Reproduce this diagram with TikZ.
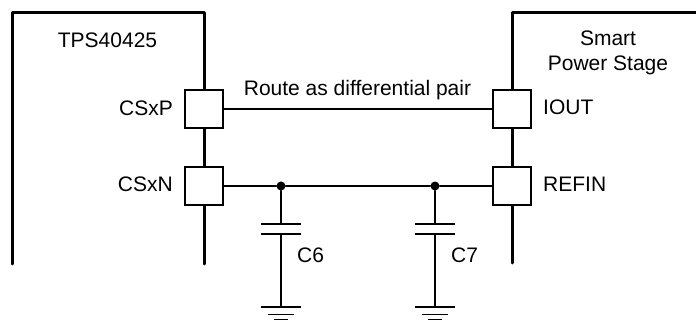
\documentclass[tikz,border=0pt]{standalone}
\usepackage{fontspec}
\setmainfont{Liberation Sans}
\tikzset{
	pin/.style={draw,fill=white,line width=1.4pt,minimum width=38pt,minimum height=38pt,inner sep=0pt},
	lbl/.style={inner sep=0pt,font=\fontsize{21pt}{25pt}\selectfont},
	wire/.style={line width=1.6pt,line cap=round},
	body/.style={line width=3pt,line join=round,line cap=round},
	dot/.style={circle,fill=black,minimum size=9pt,inner sep=0pt}
}
\begin{document}
\begin{tikzpicture}[x=1pt,y=-1pt]
	\useasboundingbox (0,0) rectangle (696,320);
	% package outlines
	\coordinate (bl) at (12,264);
	\coordinate (tl) at (12,13);
	\coordinate (tm) at (204,13);
	\coordinate (bm) at (204,264);
	\coordinate (tn) at (512,13);
	\coordinate (bn) at (512,263);
	\coordinate (te) at (696,13);
	\draw[body] (bl) -- (tl) -- (tm) -- (bm);
	\draw[body] (bn) -- (tn) -- (te);
	% pins
	\node[pin] (csxp) at (204,109) {};
	\node[pin] (csxn) at (204,186) {};
	\node[pin] (iout) at (512,109) {};
	\node[pin] (refin) at (512,186) {};
	\node[dot] (j6) at (281,186) {};
	\node[dot] (j7) at (435,186) {};
	\path[wire]
	(csxp) edge (iout)
	(csxn) edge (j6)
	(j6) edge (j7)
	(j7) edge (refin);
	% capacitors and grounds
	\foreach \n/\x in {6/281,7/435}{
		\coordinate (p\n a) at (\x,224);
		\coordinate (p\n b) at (\x,234);
		\coordinate (g\n) at (\x,307);
		\draw[wire] (j\n) -- (p\n a);
		\draw[wire] (p\n b) -- (g\n);
		\draw[wire,line cap=butt] ([xshift=-20pt]p\n a) -- ([xshift=20pt]p\n a);
		\draw[wire,line cap=butt] ([xshift=-20pt]p\n b) -- ([xshift=20pt]p\n b);
		\draw[wire,line cap=butt] ([xshift=-20pt]g\n) -- ([xshift=20pt]g\n);
		\draw[wire,line cap=butt] ([xshift=-13pt,yshift=-7.5pt]g\n) -- ([xshift=13pt,yshift=-7.5pt]g\n);
		\draw[wire,line cap=butt] ([xshift=-7pt,yshift=-13.2pt]g\n) -- ([xshift=7pt,yshift=-13.2pt]g\n);
		\node[lbl,anchor=base west] (c\n) at (\x+16,263) {C\n};
	}
	% labels
	\node[lbl,anchor=base] (route) at (357.5,96) {Route as differential pair};
	\node[lbl,anchor=base] (tps) at (107.5,48) {TPS40425};
	\node[lbl,anchor=base east] (csxpl) at (173,116) {CSxP};
	\node[lbl,anchor=base east] (csxnl) at (173,192) {CSxN};
	\node[lbl,anchor=base west] (ioutl) at (543,115) {IOUT};
	\node[lbl,anchor=base west] (refinl) at (543,192) {REFIN};
	\node[lbl,anchor=base] (smart) at (608,46) {Smart};
	\node[lbl,anchor=base] (stage) at (608,71) {Power Stage};
\end{tikzpicture}
\end{document}
